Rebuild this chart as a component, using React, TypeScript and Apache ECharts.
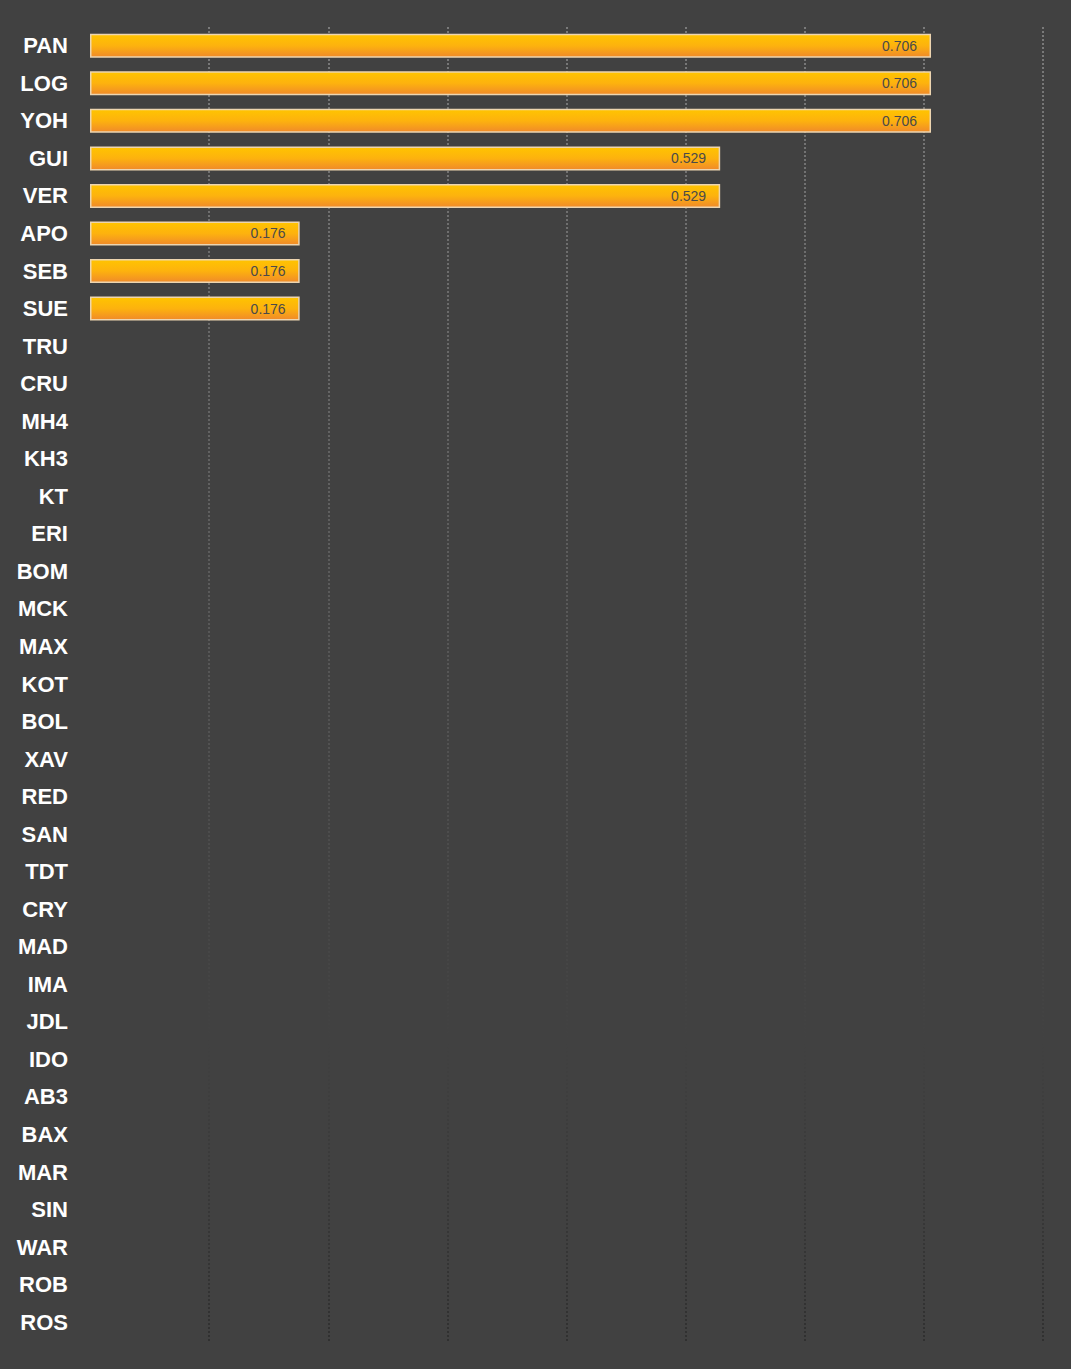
import React, { useEffect, useRef } from "react";
import * as echarts from "echarts";

const categories = [
  "PAN", "LOG", "YOH", "GUI", "VER", "APO", "SEB", "SUE", "TRU", "CRU",
  "MH4", "KH3", "KT", "ERI", "BOM", "MCK", "MAX", "KOT", "BOL", "XAV",
  "RED", "SAN", "TDT", "CRY", "MAD", "IMA", "JDL", "IDO", "AB3", "BAX",
  "MAR", "SIN", "WAR", "ROB", "ROS",
];
const values = [
  0.706, 0.706, 0.706, 0.529, 0.529, 0.176, 0.176, 0.176, 0, 0,
  0, 0, 0, 0, 0, 0, 0, 0, 0, 0,
  0, 0, 0, 0, 0, 0, 0, 0, 0, 0,
  0, 0, 0, 0, 0,
];
const axisMax = 0.8;
const axisInterval = 0.1;

export default function App() {
  const ref = useRef<HTMLDivElement>(null);
  useEffect(() => {
    if (!ref.current) return;
    const chart = echarts.init(ref.current, null, { renderer: "svg" });
    const gridTop = 27;
    const gridBottom = 28;
    const H = 1369;
    chart.setOption({
      animation: false,
      backgroundColor: "#414141",
      grid: { left: 90, right: 28, top: gridTop, bottom: gridBottom, containLabel: false },
      xAxis: {
        type: "value",
        min: 0,
        max: axisMax,
        interval: axisInterval,
        axisLabel: { show: false },
        axisLine: { show: false },
        axisTick: { show: false },
        splitLine: {
          show: true,
          showMinLine: false,
          lineStyle: {
            type: [2, 2],
            width: 2,
            color: new echarts.graphic.LinearGradient(
              0, gridTop, 0, H - gridBottom,
              [
                { offset: 0, color: "#7a7a7a" },
                { offset: 1, color: "#303030" },
              ],
              true
            ),
          },
        },
      },
      yAxis: {
        type: "category",
        data: categories,
        inverse: true,
        axisLine: { show: false },
        axisTick: { show: false },
        splitLine: { show: false },
        axisLabel: {
          color: "#ffffff",
          fontSize: 22,
          fontWeight: "bold",
          fontFamily: "Liberation Sans, Arial, sans-serif",
          margin: 22,
          padding: [3, 0, 0, 0],
        },
      },
      series: [
        {
          type: "bar",
          data: values.map((v) => (v > 0 ? v : null)),
          barWidth: 24,
          itemStyle: {
            color: new echarts.graphic.LinearGradient(0, 0, 0, 1, [
              { offset: 0, color: "#ffc400" },
              { offset: 0.5, color: "#fdb20e" },
              { offset: 1, color: "#f08a2a" },
            ]),
            borderColor: "#edd5b0",
            borderWidth: 1.5,
          },
          label: {
            show: true,
            position: "insideRight",
            distance: 14,
            color: "#4a4a4a",
            fontSize: 14,
            fontFamily: "Liberation Sans, Arial, sans-serif",
            formatter: (p: any) => Number(p.value).toFixed(3),
          },
        },
      ],
    });
    return () => chart.dispose();
  }, []);
  return (
    <div
      ref={ref}
      style={{ width: 1071, height: 1369, position: "absolute", left: 0, top: 0 }}
    />
  );
}
